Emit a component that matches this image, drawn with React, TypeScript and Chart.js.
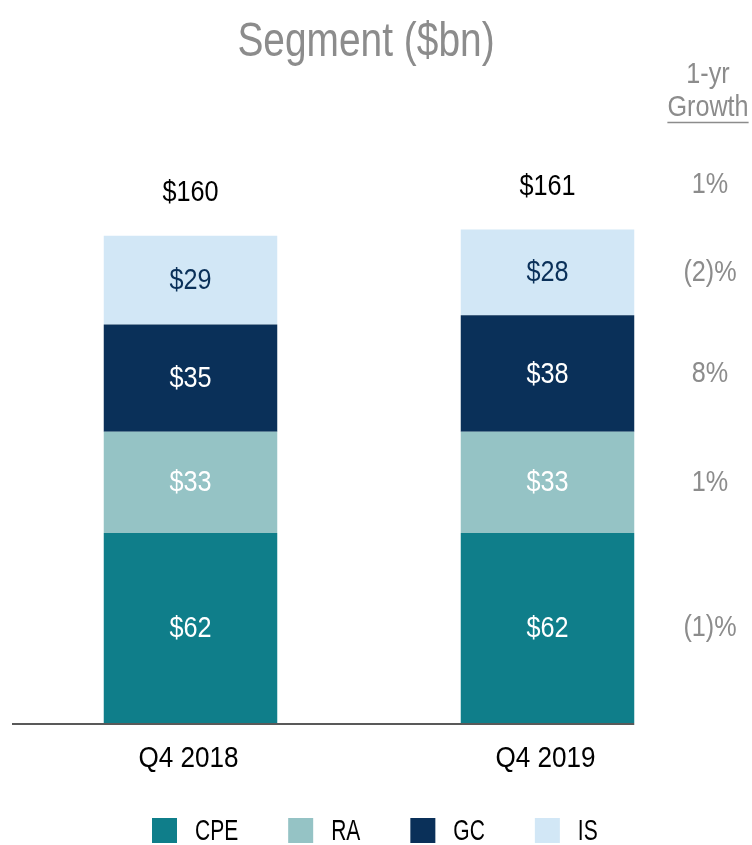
import React, { useEffect, useRef } from "react";
import { Chart, registerables } from "chart.js";

Chart.register(...registerables);

const categories = ["Q4 2018", "Q4 2019"];
const segmentNames = ["CPE", "RA", "GC", "IS"];
const cpeValues = [62, 62];
const raValues = [33, 33];
const gcValues = [35, 38];
const isValues = [29, 28];
const totalValues = [160, 161];
const segmentGrowth = ["(1)%", "1%", "8%", "(2)%"]; // CPE, RA, GC, IS
const totalGrowth = "1%";
const titleText = "Segment ($bn)";
const growthHeader = ["1-yr", "Growth"];

const segColors = ["#0F7E8A", "#95C3C5", "#0A3059", "#D2E7F6"];
const segLabelColors = ["#FFFFFF", "#FFFFFF", "#FFFFFF", "#0A3059"];
const FONT = "'Liberation Sans', Arial, sans-serif";
const GRAY = "#8C8C8C";

function drawText(
  ctx: CanvasRenderingContext2D,
  s: string,
  x: number,
  y: number,
  size: number,
  color: string,
  sx = 0.85,
  align: CanvasTextAlign = "center"
) {
  ctx.save();
  ctx.font = `${size}px ${FONT}`;
  ctx.fillStyle = color;
  ctx.textAlign = align;
  ctx.textBaseline = "middle";
  ctx.translate(x, y);
  ctx.scale(sx, 1);
  ctx.fillText(s, 0, 0);
  ctx.restore();
}

function textWidth(ctx: CanvasRenderingContext2D, s: string, size: number, sx: number) {
  ctx.save();
  ctx.font = `${size}px ${FONT}`;
  const w = ctx.measureText(s).width * sx;
  ctx.restore();
  return w;
}

const overlayPlugin = {
  id: "overlay",
  afterDatasetsDraw(chart: any) {
    const ctx: CanvasRenderingContext2D = chart.ctx;
    const area = chart.chartArea;
    ctx.save();

    // title
    drawText(ctx, titleText, 366, 43, 48, GRAY, 0.81);

    // baseline
    const meta0 = chart.getDatasetMeta(0);
    const lastBar: any = meta0.data[meta0.data.length - 1];
    ctx.strokeStyle = "#595959";
    ctx.lineWidth = 2;
    ctx.beginPath();
    ctx.moveTo(12, area.bottom + 1);
    ctx.lineTo(lastBar.x + lastBar.width / 2, area.bottom + 1);
    ctx.stroke();

    // category labels (positions from the x scale)
    const xs = chart.scales.x;
    categories.forEach((c, j) => {
      drawText(ctx, c, xs.getPixelForValue(j) - 2, 758.5, 30, "#000000", 0.87);
    });

    // segment labels
    chart.data.datasets.forEach((ds: any, i: number) => {
      const meta = chart.getDatasetMeta(i);
      meta.data.forEach((el: any, j: number) => {
        drawText(ctx, "$" + ds.data[j], el.x, (el.y + el.base) / 2 + 1, 29, segLabelColors[i], 0.87);
      });
    });

    // totals
    const topMeta = chart.getDatasetMeta(chart.data.datasets.length - 1);
    topMeta.data.forEach((el: any, j: number) => {
      drawText(ctx, "$" + totalValues[j], el.x, el.y - 43, 29, "#000000", 0.87);
    });

    // growth column
    const gx = 710;
    chart.data.datasets.forEach((ds: any, i: number) => {
      const meta = chart.getDatasetMeta(i);
      const el: any = meta.data[meta.data.length - 1];
      drawText(ctx, segmentGrowth[i], gx, (el.y + el.base) / 2, 30, GRAY, 0.84);
    });
    const lastTop: any = topMeta.data[topMeta.data.length - 1];
    drawText(ctx, totalGrowth, gx, lastTop.y - 45, 30, GRAY, 0.84);

    drawText(ctx, growthHeader[0], 708, 75, 30, GRAY, 0.84);
    drawText(ctx, growthHeader[1], 708, 108, 30, GRAY, 0.84);
    const gw = textWidth(ctx, growthHeader[1], 30, 0.84);
    ctx.strokeStyle = GRAY;
    ctx.lineWidth = 1.5;
    ctx.beginPath();
    ctx.moveTo(708 - gw / 2, 122.5);
    ctx.lineTo(708 + gw / 2, 122.5);
    ctx.stroke();

    // legend
    const box = 25;
    const gapText = 18;
    const gapItem = 50;
    const lsx = 0.7;
    let x = 152;
    const ly = 830.5;
    segmentNames.forEach((n, i) => {
      ctx.fillStyle = segColors[i];
      ctx.fillRect(x, ly - box / 2, box, box);
      const tx = x + box + gapText;
      drawText(ctx, n, tx, ly + 1, 30, "#000000", lsx, "left");
      x = tx + textWidth(ctx, n, 30, lsx) + gapItem;
    });

    ctx.restore();
  },
};

export default function App() {
  const canvasRef = useRef<HTMLCanvasElement | null>(null);

  useEffect(() => {
    if (!canvasRef.current) return;
    const series = [cpeValues, raValues, gcValues, isValues];
    const chart = new Chart(canvasRef.current, {
      type: "bar",
      data: {
        labels: categories,
        datasets: series.map((vals, i) => ({
          label: segmentNames[i],
          data: vals,
          backgroundColor: segColors[i],
          borderWidth: 0,
          categoryPercentage: 1,
          barPercentage: 0.486,
        })),
      },
      options: {
        animation: false,
        responsive: true,
        maintainAspectRatio: false,
        layout: { padding: { top: 110, left: 12, right: 26, bottom: 122 } },
        plugins: {
          legend: { display: false },
          title: { display: false },
          tooltip: { enabled: false },
        },
        scales: {
          x: {
            stacked: true,
            display: false,
          },
          y: {
            stacked: true,
            display: false,
            min: 0,
            max: 200,
          },
        },
      },
      plugins: [overlayPlugin],
    });
    return () => chart.destroy();
  }, []);

  return (
    <div style={{ position: "fixed", left: 0, top: 0, width: 752, height: 845, background: "#FFFFFF" }}>
      <canvas ref={canvasRef} />
    </div>
  );
}
